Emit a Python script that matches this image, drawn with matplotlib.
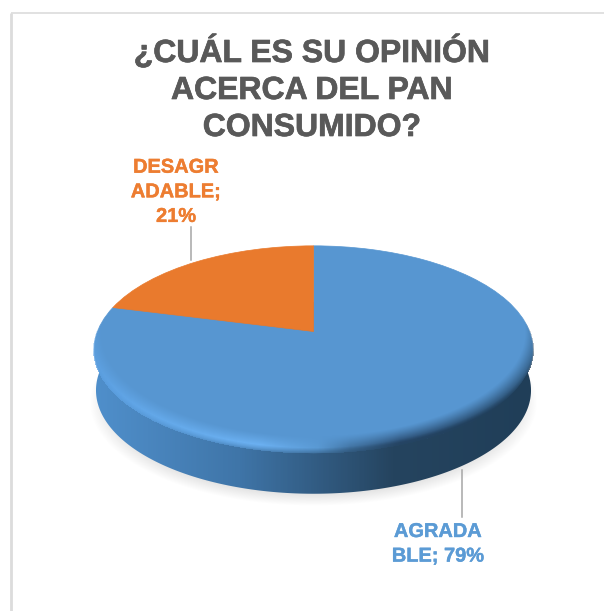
import numpy as np
import matplotlib

matplotlib.use("Agg")
import matplotlib.pyplot as plt
import matplotlib.patheffects as pe
from matplotlib.colors import LinearSegmentedColormap, to_rgb
from matplotlib.patches import Polygon
from matplotlib.transforms import Transform

titulo = ["¿CUÁL ES SU OPINIÓN", "ACERCA DEL PAN", "CONSUMIDO?"]
categorias = ["AGRADABLE", "DESAGRADABLE"]
valores = [79, 21]
colores = ["#5796d1", "#e97a2d"]
colores_texto = ["#5b9bd5", "#ed7d31"]

plt.rcParams["font.family"] = ["Liberation Sans", "DejaVu Sans"]

W, H = 604, 611
# disc geometry, in pixels
CX, CY = 313.5, 331.5
A, B, K = 216.0, 100.4, 0.172
GROSOR = 41


class Perspectiva(Transform):
    # unit disc seen from above, the far side gets squeezed
    input_dims = 2
    output_dims = 2

    def transform_non_affine(self, values):
        values = np.asarray(values, dtype=float)
        w = 1 + K * values[:, 1]
        return np.column_stack((CX + A * values[:, 0] / w, CY - B * values[:, 1] / w))


def radio(x, y):
    xp = (x - CX) / A
    yp = (CY - y) / B
    d = 1 - K * yp
    return np.hypot(xp, yp) / np.abs(d)


def borde(t):
    return Perspectiva().transform_non_affine(np.column_stack((np.cos(t), np.sin(t))))


fig = plt.figure(figsize=(W / 100, H / 100), dpi=100)
ax = fig.add_axes([0, 0, 1, 1])

wedges, _ = ax.pie(
    valores,
    colors=colores,
    startangle=90,
    counterclock=False,
    radius=1,
    wedgeprops={"linewidth": 0.5, "zorder": 3},
)
for i, w in enumerate(wedges):
    w.set_edgecolor(colores[i])
    w.set_transform(Perspectiva() + ax.transData)

xx, yy = np.meshgrid(np.arange(W) + 0.5, np.arange(H) + 0.5)

# soft shadow under the disc
r_sombra = radio((xx - CX) / 1.02 + CX, yy - GROSOR - 12)
alfa = np.clip((1.0 - r_sombra) / 0.08, 0, 1)
gris = np.full_like(xx, 0.895)
ax.imshow(np.dstack((gris, gris, gris, alfa)), extent=(0, W, H, 0), aspect="auto", zorder=1,
          interpolation="bilinear")

# side wall with a left-to-right gradient
lateral = LinearSegmentedColormap.from_list(
    "lateral",
    [
        (0.0, "#4f8fcb"),
        (0.12, "#4a86bf"),
        (0.33, "#3f75a8"),
        (0.52, "#315a80"),
        (0.68, "#25445f"),
        (1.0, "#203e58"),
    ],
)
t = np.linspace(np.pi, 2 * np.pi, 200)
contorno = borde(t)
abajo = np.column_stack((CX + (contorno[:, 0] - CX) * 0.992, contorno[:, 1] + GROSOR))
puntos = np.vstack((borde(np.array([np.pi * 0.9])), abajo, borde(np.array([np.pi * 0.1]))))
pared = ax.imshow(
    np.linspace(0, 1, 440).reshape(1, -1),
    cmap=lateral,
    extent=(94, 534, 510, 300),
    aspect="auto",
    zorder=2,
)
pared.set_clip_path(Polygon(puntos, closed=True, transform=ax.transData))

# bevel along the lower rim of the top face
sx = 8 * np.clip((xx - CX) / A, -1, 1)
r_bisel = radio(xx + sx, yy + 17)
alfa = np.clip((r_bisel - 1) / 0.1, 0, 1) ** 1.2
alfa[radio(xx, yy) > 1.005] = 0
alfa[yy < CY - 40] = 0
x_col = [94, 170, 260, 318, 350, 400, 534]
rgb_col = np.array(
    [to_rgb(c) for c in ["#62a9ee", "#6ab1f4", "#72b9fc", "#5b9bd5", "#3f6f9c", "#27476a", "#1f3d58"]]
)
bisel = np.dstack(
    [np.interp(xx, x_col, rgb_col[:, j]) for j in range(3)] + [alfa]
)
ax.imshow(bisel, extent=(0, W, H, 0), aspect="auto", zorder=4, interpolation="bilinear")

# the very edge of the face melts into the wall
r_filo = radio(xx, yy + 5)
alfa = np.clip((r_filo - 1) / 0.05, 0, 1) * 0.9
alfa[radio(xx, yy) > 1.005] = 0
alfa[yy < CY + 20] = 0
filo = lateral(np.clip((xx - 94) / 440, 0, 1))
filo[..., 3] = alfa
ax.imshow(filo, extent=(0, W, H, 0), aspect="auto", zorder=4.5, interpolation="bilinear")

# frame of the chart area
ax.plot([11, 11], [H, 13], color="#dcdcdc", lw=2, zorder=0, solid_capstyle="butt")
ax.plot([11, W], [13, 13], color="#dcdcdc", lw=1.2, zorder=0, solid_capstyle="butt")

# leader lines
ax.plot([190.7, 190.7], [227, 260], color="#a6a6a6", lw=1.1, zorder=5)
ax.plot([462, 462], [470, 517], color="#a6a6a6", lw=1.1, zorder=5)

for i, linea in enumerate(titulo):
    ax.text(312, 62 + i * 37, linea, ha="center", va="baseline", fontsize=23,
            fontweight="bold", color="#595959",
            path_effects=[pe.withStroke(linewidth=0.5, foreground="#595959")])

etiqueta_d = [categorias[1][:6], categorias[1][6:] + ";", f"{valores[1]}%"]
for i, linea in enumerate(etiqueta_d):
    ax.text(176, 172.7 + i * 24.6, linea, ha="center", va="baseline", fontsize=14.4,
            fontweight="bold", color=colores_texto[1],
            path_effects=[pe.withStroke(linewidth=0.3, foreground=colores_texto[1])])

etiqueta_a = [categorias[0][:6], categorias[0][6:] + f"; {valores[0]}%"]
for i, linea in enumerate(etiqueta_a):
    ax.text(438, 537 + i * 24.6, linea, ha="center", va="baseline", fontsize=14.4,
            fontweight="bold", color=colores_texto[0],
            path_effects=[pe.withStroke(linewidth=0.3, foreground=colores_texto[0])])

ax.set_xlim(0, W)
ax.set_ylim(H, 0)
ax.set_aspect("auto")
ax.axis("off")

fig.savefig("out.png", dpi=100, facecolor="white")
